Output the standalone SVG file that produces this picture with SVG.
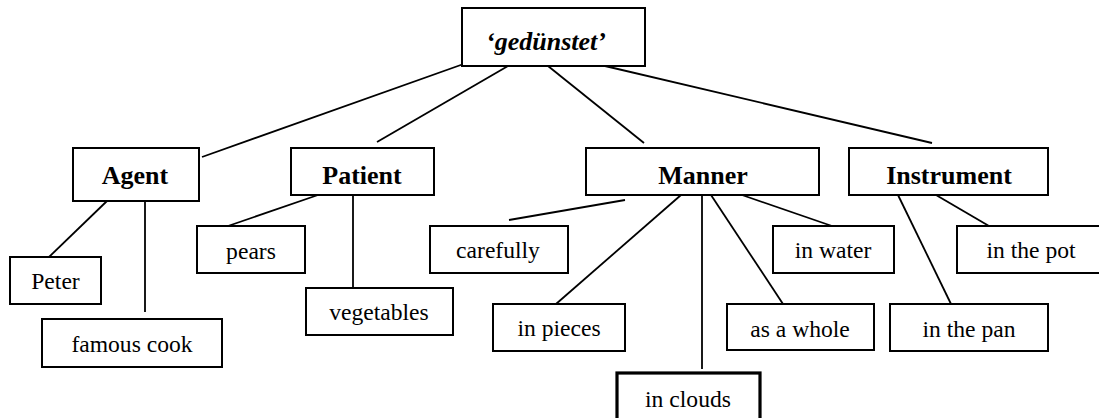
<svg xmlns="http://www.w3.org/2000/svg" width="1099" height="418" viewBox="0 0 1099 418">
<style>
rect{fill:#fff;stroke:#000;stroke-width:2}
rect.thick{stroke-width:3.2}
text{font-family:"Liberation Serif","Times New Roman",serif;text-anchor:middle;fill:#000}
.cat{font-weight:bold;font-size:26px}
.root{font-weight:bold;font-style:italic;font-size:26px}
.leaf{font-weight:400;font-size:23.6px}
#connectors line{stroke:#000;stroke-width:1.8}
</style>
<rect x="0" y="0" width="1099" height="418" style="stroke:none;fill:#fff"/>
<g id="connectors">
<line x1="472" y1="61" x2="202" y2="157"/>
<line x1="508" y1="66" x2="377" y2="142"/>
<line x1="548" y1="66" x2="644" y2="143"/>
<line x1="605" y1="66" x2="932" y2="143"/>
<line x1="107" y1="201" x2="49" y2="257"/>
<line x1="145" y1="195" x2="145" y2="312"/>
<line x1="318" y1="195" x2="228" y2="226"/>
<line x1="353" y1="195" x2="353" y2="288"/>
<line x1="625" y1="200" x2="509" y2="220"/>
<line x1="681" y1="195" x2="556" y2="304"/>
<line x1="702" y1="195" x2="702" y2="369"/>
<line x1="711" y1="195" x2="783" y2="304"/>
<line x1="742" y1="195" x2="832" y2="226"/>
<line x1="898" y1="195" x2="951" y2="304"/>
<line x1="936" y1="195" x2="989" y2="226"/>
</g>
<g id="root"><rect x="462" y="8" width="183" height="58"/><text class="root" x="546" y="50">‘gedünstet’</text></g>
<g id="agent"><rect x="73" y="148" width="126" height="53"/><text class="cat" x="135" y="184">Agent</text></g>
<g id="patient"><rect x="291" y="148" width="143" height="47"/><text class="cat" x="362" y="184">Patient</text></g>
<g id="manner"><rect x="586" y="148" width="233" height="47"/><text class="cat" x="703" y="184">Manner</text></g>
<g id="instrument"><rect x="849" y="148" width="199" height="47"/><text class="cat" x="949" y="184">Instrument</text></g>
<g id="peter"><rect x="10" y="257" width="91" height="47"/><text class="leaf" x="55.5" y="289">Peter</text></g>
<g id="famouscook"><rect x="42" y="319" width="180" height="48"/><text class="leaf" x="132" y="352">famous cook</text></g>
<g id="pears"><rect x="197" y="226" width="108" height="47"/><text class="leaf" x="251" y="259">pears</text></g>
<g id="vegetables"><rect x="306" y="288" width="147" height="47"/><text class="leaf" x="379" y="320">vegetables</text></g>
<g id="carefully"><rect x="430" y="226" width="138" height="47"/><text class="leaf" x="498" y="258">carefully</text></g>
<g id="inpieces"><rect x="493" y="304" width="132" height="47"/><text class="leaf" x="559" y="336">in pieces</text></g>
<g id="inclouds"><rect class="thick" x="617" y="373" width="143" height="60"/><text class="leaf" x="688" y="406.5">in clouds</text></g>
<g id="asawhole"><rect x="727" y="304" width="147" height="46"/><text class="leaf" x="800" y="336.5">as a whole</text></g>
<g id="inwater"><rect x="773" y="226" width="121" height="47"/><text class="leaf" x="833" y="258">in water</text></g>
<g id="inthepot"><rect x="957" y="226" width="150" height="47"/><text class="leaf" x="1031" y="258">in the pot</text></g>
<g id="inthepan"><rect x="890" y="304" width="158" height="47"/><text class="leaf" x="969" y="336.5">in the pan</text></g>
</svg>
